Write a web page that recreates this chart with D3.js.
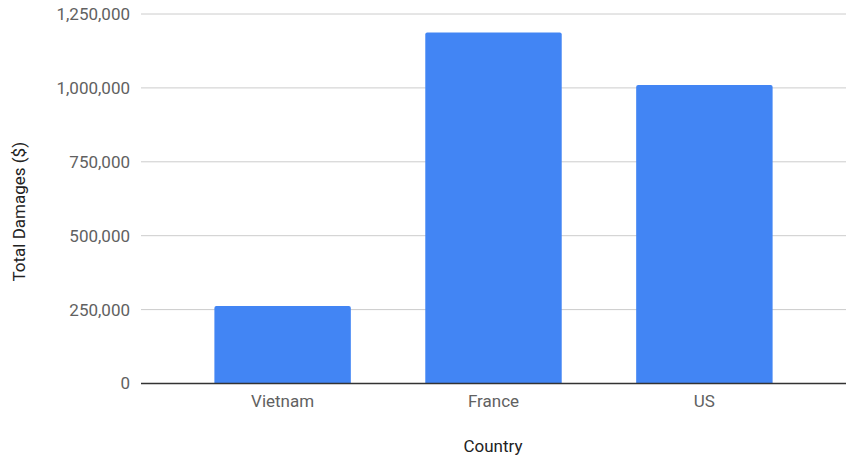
<!DOCTYPE html>
<html>
<head>
<meta charset="utf-8">
<script src="https://d3js.org/d3.v7.min.js"></script>
<style>
  body { margin: 0; background: #fff; }
  text { font-family: Roboto, "Noto Sans", sans-serif; }
</style>
</head>
<body>
<div id="chart"></div>
<script>
var countries = ["Vietnam", "France", "US"];
var damages = [262000, 1187000, 1010000];
var yTicks = [0, 250000, 500000, 750000, 1000000, 1250000];

var width = 846,
    height = 455;

// plot area (note: "top" is reserved on window, so use plotTop)
var plotLeft = 141, plotRight = 846, plotTop = 14, plotBottom = 383.5;

var svg = d3.select("#chart").append("svg")
    .attr("width", width)
    .attr("height", height);

var x = d3.scaleBand()
    .domain(countries)
    .range([plotLeft, plotRight])
    .paddingInner(0.353)
    .paddingOuter(0.348);

var y = d3.scaleLinear()
    .domain([0, 1250000])
    .range([plotBottom, plotTop]);

// gridlines
svg.append("g")
    .selectAll("line")
    .data(yTicks.filter(d => d > 0))
    .enter()
    .append("line")
    .attr("x1", plotLeft)
    .attr("x2", plotRight)
    .attr("y1", d => y(d))
    .attr("y2", d => y(d))
    .style("stroke", "#cccccc")
    .style("stroke-width", 1);

// y tick labels
svg.append("g")
    .selectAll("text")
    .data(yTicks)
    .enter()
    .append("text")
    .attr("x", 130)
    .attr("y", d => y(d))
    .attr("dy", "0.35em")
    .attr("text-anchor", "end")
    .style("font-size", "17px")
    .style("fill", "#616161")
    .text(d => d3.format(",")(d));

// bars with slightly rounded tops
var r = 2;
svg.append("g")
    .selectAll("path")
    .data(countries)
    .enter()
    .append("path")
    .attr("d", (c, i) => {
        var x0 = x(c), x1 = x(c) + x.bandwidth();
        var y0 = y(0), y1 = y(damages[i]);
        return "M" + x0 + "," + y0 +
            "V" + (y1 + r) +
            "Q" + x0 + "," + y1 + " " + (x0 + r) + "," + y1 +
            "H" + (x1 - r) +
            "Q" + x1 + "," + y1 + " " + x1 + "," + (y1 + r) +
            "V" + y0 + "Z";
    })
    .style("fill", "#4285f4");

// baseline
svg.append("line")
    .attr("x1", plotLeft)
    .attr("x2", plotRight)
    .attr("y1", y(0))
    .attr("y2", y(0))
    .style("stroke", "#333333")
    .style("stroke-width", 1.5);

// x labels
svg.append("g")
    .selectAll("text")
    .data(countries)
    .enter()
    .append("text")
    .attr("x", c => x(c) + x.bandwidth() / 2)
    .attr("y", 407)
    .attr("text-anchor", "middle")
    .style("font-size", "17px")
    .style("fill", "#616161")
    .text(c => c);

// axis titles
svg.append("text")
    .attr("x", (plotLeft + plotRight) / 2 - 0.5)
    .attr("y", 452)
    .attr("text-anchor", "middle")
    .style("font-size", "17px")
    .style("fill", "#222222")
    .text("Country");

svg.append("text")
    .attr("transform", "translate(25," + ((plotTop + plotBottom) / 2 + 13) + ") rotate(-90)")
    .attr("text-anchor", "middle")
    .style("font-size", "17px")
    .style("fill", "#222222")
    .text("Total Damages ($)");
</script>
</body>
</html>
